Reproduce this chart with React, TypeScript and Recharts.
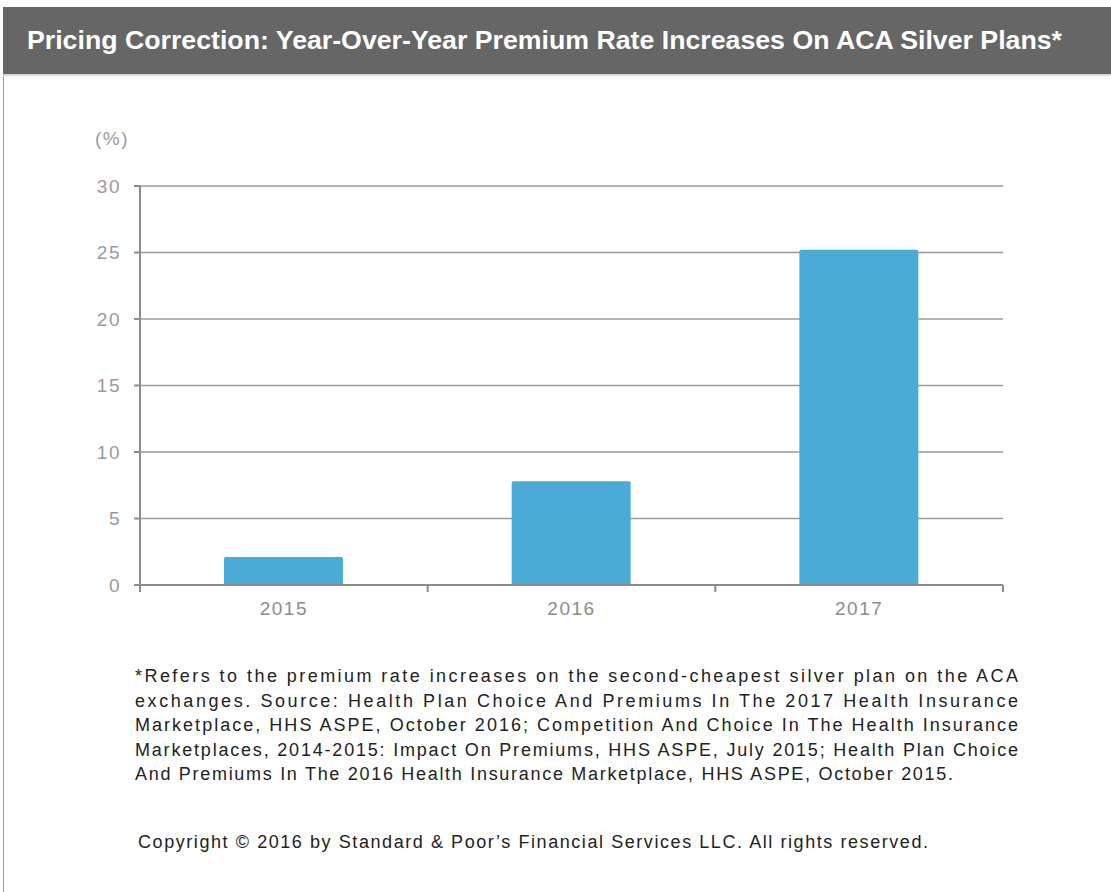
import React from "react"
import { BarChart, Bar, XAxis, YAxis, CartesianGrid } from "recharts"

const years = ["2015", "2016", "2017"]
const increases = [2.1, 7.8, 25.2]
const yTicks = [0, 5, 10, 15, 20, 25, 30]

const TITLE = "Pricing Correction: Year-Over-Year Premium Rate Increases On ACA  Silver Plans*"
const NOTE_LINES = [
  "*Refers to the premium rate increases on the second-cheapest silver plan on the ACA",
  "exchanges. Source: Health Plan Choice And Premiums In The 2017 Health Insurance",
  "Marketplace, HHS ASPE, October 2016; Competition And Choice In The Health Insurance",
  "Marketplaces, 2014-2015: Impact On Premiums, HHS ASPE, July 2015; Health Plan Choice",
  "And Premiums In The 2016 Health Insurance Marketplace, HHS ASPE, October 2015.",
]
const COPY = "Copyright \u00A9 2016 by Standard & Poor\u2019s Financial Services LLC. All rights reserved."

const data = years.map((y, i) => ({ year: y, val: increases[i] }))

const font = "'Liberation Sans', Arial, sans-serif"

const W = 1111
const H = 640
const M = { top: 186, right: 108, bottom: 25, left: 80 }
const Y_W = 60
const TICK_MARGIN = 17
const band = (W - M.left - M.right - Y_W) / years.length

// category label plus the small tick marks at the band edges
const YearTick = (props: any) => {
  const { x, y, payload, index } = props
  const axisY = y - TICK_MARGIN
  const left = x - band / 2
  const right = x + band / 2
  return (
    <g>
      <line x1={left} x2={left} y1={axisY} y2={axisY + 7} stroke="#8c8c8c" strokeWidth={2} />
      {index === years.length - 1 && <line x1={right} x2={right} y1={axisY} y2={axisY + 7} stroke="#8c8c8c" strokeWidth={2} />}
      <text x={x} y={y} dy="0.71em" textAnchor="middle" fill="#8c8c8c" fontSize={19} fontFamily={font} letterSpacing={1.5}>
        {payload.value}
      </text>
    </g>
  )
}

export default function App() {
  return (
    <div style={{ position: "absolute", left: 0, top: 0, width: 1111, height: 892, background: "#fff", fontFamily: font }}>
      {/* frame */}
      <div style={{ position: "absolute", left: 3, top: 74, width: 1, height: 818, background: "#a0a0a0" }} />

      <div style={{ position: "absolute", left: 0, top: 0 }}>
        <BarChart width={W} height={H} data={data} margin={M} barSize={119}>
          <CartesianGrid horizontal vertical={false} stroke="#9a9a9a" strokeWidth={1.5} />
          <XAxis
            dataKey="year"
            tickLine={false}
            tickSize={0}
            tickMargin={TICK_MARGIN}
            height={30}
            stroke="#8c8c8c"
            strokeWidth={2}
            tick={YearTick}
          />
          <YAxis
            domain={[0, 30]}
            ticks={yTicks}
            width={Y_W}
            tickSize={6}
            tickMargin={13}
            stroke="#8c8c8c"
            strokeWidth={2}
            tick={{ fill: "#9a9a9a", fontSize: 19, fontFamily: font, letterSpacing: 1.5 }}
          />
          <Bar dataKey="val" fill="#4aabd6" radius={[2, 2, 0, 0]} isAnimationActive={false} />
        </BarChart>
      </div>

      {/* title bar */}
      <svg style={{ position: "absolute", left: 3, top: 7 }} width={1108} height={67}>
        <rect x={0} y={0} width={1108} height={67} fill="#666666" />
        <text x={24} y={42} fill="#ffffff" fontSize={25} fontWeight="bold" fontFamily={font} textLength={1035} lengthAdjust="spacingAndGlyphs">
          {TITLE}
        </text>
      </svg>
      <div style={{ position: "absolute", left: 3, top: 74, width: 1108, height: 2, background: "#d8d8d8" }} />

      <div style={{ position: "absolute", left: 95, top: 128, fontSize: 19, letterSpacing: 1.5, color: "#9a9a9a" }}>(%)</div>

      <svg style={{ position: "absolute", left: 0, top: 655 }} width={1111} height={130}>
        {NOTE_LINES.map((line, i) => (
          <text
            key={i}
            x={135}
            y={27 + i * 24.5}
            fill="#222"
            fontSize={18}
            fontFamily={font}
            textLength={i < NOTE_LINES.length - 1 ? 883 : 818}
            lengthAdjust="spacing"
          >
            {line}
          </text>
        ))}
      </svg>

      <svg style={{ position: "absolute", left: 0, top: 826 }} width={1111} height={30}>
        <text x={138} y={22} fill="#222" fontSize={18} fontFamily={font} textLength={790} lengthAdjust="spacing">
          {COPY}
        </text>
      </svg>
    </div>
  )
}
